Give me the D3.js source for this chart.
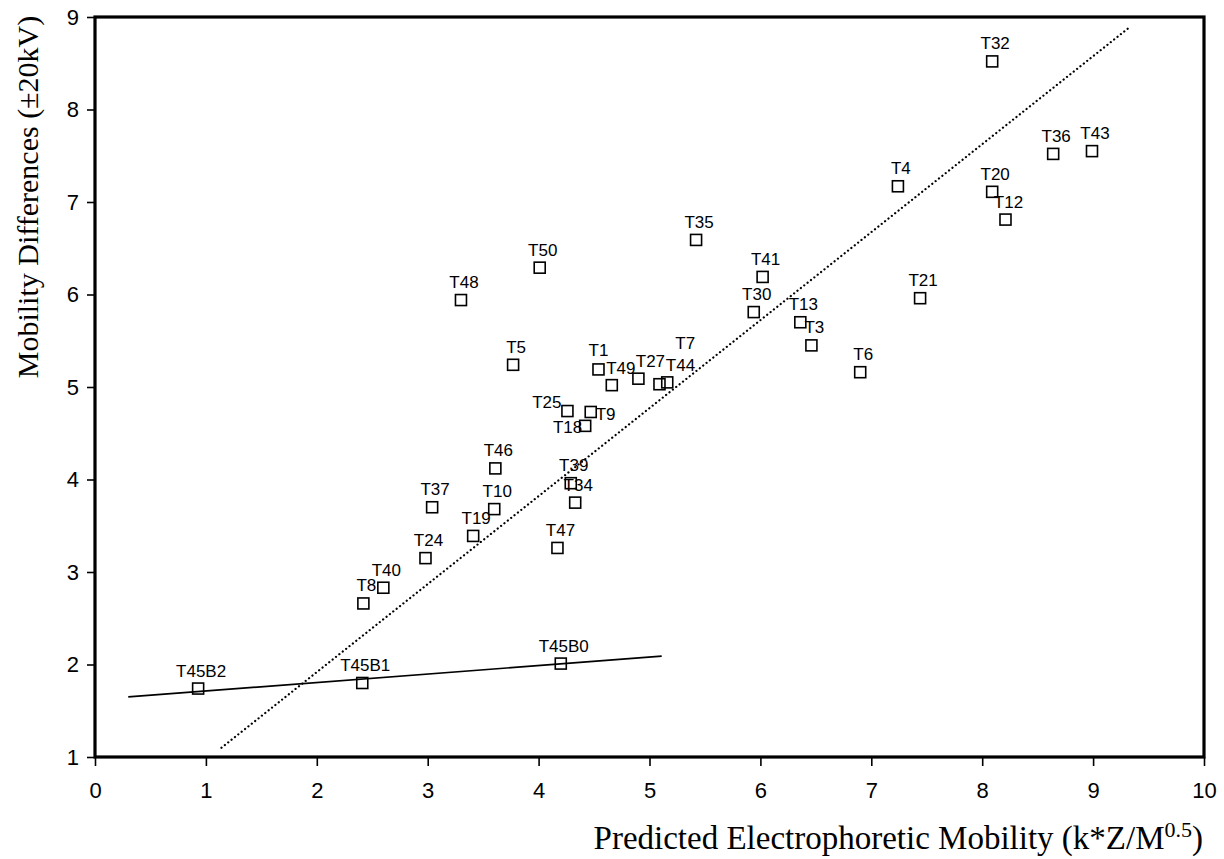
<!DOCTYPE html>
<html>
<head>
<meta charset="utf-8">
<script src="https://cdn.jsdelivr.net/npm/d3@7"></script>
<style>
  body { margin: 0; background: #fff; }
  .tick text { font-family: "Liberation Sans", Arial, sans-serif; font-size: 22px; }
  .pt-label { font-family: "Liberation Sans", Arial, sans-serif; font-size: 17px; }
  .axis-title { font-family: "Liberation Serif", "Times New Roman", serif; }
</style>
</head>
<body>
<div id="chart"></div>
<script>
const width = 1224;
const height = 859;

// sample names and measured values
const names = ["T32", "T36", "T43", "T4", "T20", "T12", "T21", "T6", "T3", "T13",
  "T30", "T41", "T35", "T50", "T48", "T5", "T1", "T49", "T27", "T44", "T7",
  "T25", "T9", "T18", "T46", "T39", "T34", "T37", "T10", "T19", "T47", "T24",
  "T40", "T8", "T45B2", "T45B1", "T45B0"];
const predicted = [8.09, 8.64, 8.99, 7.24, 8.09, 8.21, 7.44, 6.90, 6.46, 6.36,
  5.94, 6.02, 5.42, 4.01, 3.30, 3.77, 4.54, 4.66, 4.90, 5.09, 5.16,
  4.26, 4.47, 4.42, 3.61, 4.29, 4.33, 3.04, 3.60, 3.41, 4.17, 2.98,
  2.60, 2.42, 0.93, 2.41, 4.20];
const measured = [8.52, 7.52, 7.55, 7.17, 7.11, 6.81, 5.96, 5.16, 5.45, 5.70,
  5.81, 6.19, 6.59, 6.29, 5.94, 5.24, 5.19, 5.02, 5.09, 5.03, 5.05,
  4.74, 4.73, 4.58, 4.12, 3.96, 3.75, 3.70, 3.68, 3.39, 3.26, 3.15,
  2.83, 2.66, 1.74, 1.80, 2.01];

// fit lines (end points, data units)
const allFitX = [1.14, 9.34];
const allFitY = [1.10, 8.90];
const t45FitX = [0.30, 5.11];
const t45FitY = [1.65, 2.09];

const xTicks = [0, 1, 2, 3, 4, 5, 6, 7, 8, 9, 10];
const yTicks = [1, 2, 3, 4, 5, 6, 7, 8, 9];

// label placement tweaks for crowded points (pixels)
const labelNudge = {
  T1: { dx: 0, dy: -13, anchor: "middle" },
  T49: { dx: 9, dy: -11, anchor: "middle" },
  T27: { dx: 12, dy: -12, anchor: "middle" },
  T44: { dx: 21, dy: -13, anchor: "middle" },
  T7: { dx: 18, dy: -33, anchor: "middle" },
  T25: { dx: -6, dy: -3, anchor: "end" },
  T9: { dx: 5, dy: 8, anchor: "start" },
  T18: { dx: -3, dy: 7, anchor: "end" }
};

const points = names.map((n, i) => ({ name: n, x: predicted[i], y: measured[i] }));

const plotLeft = 95, plotRight = 1204, plotTop = 17, plotBottom = 757;

const x = d3.scaleLinear().domain([0, 10]).range([plotLeft, plotRight]);
const y = d3.scaleLinear().domain([1, 9]).range([plotBottom, plotTop]);

const svg = d3.select("#chart")
  .append("svg")
  .attr("width", width)
  .attr("height", height);

// axes
svg.append("g")
  .attr("transform", `translate(0,${plotBottom})`)
  .call(d3.axisBottom(x).tickValues(xTicks).tickSize(9).tickPadding(16).tickFormat(d3.format("d")))
  .call(g => g.select(".domain").remove())
  .call(g => g.selectAll(".tick line").attr("stroke", "#000").attr("stroke-width", 1.6))
  .call(g => g.selectAll(".tick text").attr("fill", "#000"));

svg.append("g")
  .attr("transform", `translate(${plotLeft},0)`)
  .call(d3.axisLeft(y).tickValues(yTicks).tickSize(8).tickPadding(8).tickFormat(d3.format("d")))
  .call(g => g.select(".domain").remove())
  .call(g => g.selectAll(".tick line").attr("stroke", "#000").attr("stroke-width", 1.6))
  .call(g => g.selectAll(".tick text").attr("fill", "#000"));

// plot frame
svg.append("rect")
  .attr("x", plotLeft)
  .attr("y", plotTop)
  .attr("width", plotRight - plotLeft)
  .attr("height", plotBottom - plotTop)
  .attr("fill", "none")
  .attr("stroke", "#000")
  .attr("stroke-width", 3.2);

// fit lines
const line = d3.line().x(d => x(d[0])).y(d => y(d[1]));

svg.append("path")
  .datum(d3.zip(allFitX, allFitY))
  .attr("d", line)
  .attr("fill", "none")
  .attr("stroke", "#000")
  .attr("stroke-width", 2.2)
  .attr("stroke-linecap", "round")
  .attr("stroke-dasharray", "0.1,4.2");

svg.append("path")
  .datum(d3.zip(t45FitX, t45FitY))
  .attr("d", line)
  .attr("fill", "none")
  .attr("stroke", "#000")
  .attr("stroke-width", 1.7);

// markers
const box = 11;
svg.append("g")
  .selectAll("rect")
  .data(points)
  .join("rect")
  .attr("x", d => x(d.x) - box / 2)
  .attr("y", d => y(d.y) - box / 2)
  .attr("width", box)
  .attr("height", box)
  .attr("fill", "none")
  .attr("stroke", "#000")
  .attr("stroke-width", 1.6);

svg.append("g")
  .selectAll("text")
  .data(points)
  .join("text")
  .attr("class", "pt-label")
  .attr("x", d => x(d.x) + (labelNudge[d.name] ? labelNudge[d.name].dx : 3))
  .attr("y", d => y(d.y) + (labelNudge[d.name] ? labelNudge[d.name].dy : -12))
  .attr("text-anchor", d => labelNudge[d.name] ? labelNudge[d.name].anchor : "middle")
  .text(d => d.name);

// axis titles
const xTitle = svg.append("text")
  .attr("class", "axis-title")
  .attr("font-size", "33px")
  .attr("x", 1203)
  .attr("y", 849)
  .attr("text-anchor", "end");
xTitle.append("tspan").text("Predicted Electrophoretic Mobility (k*Z/M");
xTitle.append("tspan").attr("font-size", "22px").attr("dy", -12).text("0.5");
xTitle.append("tspan").attr("dy", 12).text(")");

svg.append("text")
  .attr("class", "axis-title")
  .attr("font-size", "30px")
  .attr("transform", "translate(38,197) rotate(-90)")
  .attr("text-anchor", "middle")
  .text("Mobility Differences (±20kV)");
</script>
</body>
</html>
